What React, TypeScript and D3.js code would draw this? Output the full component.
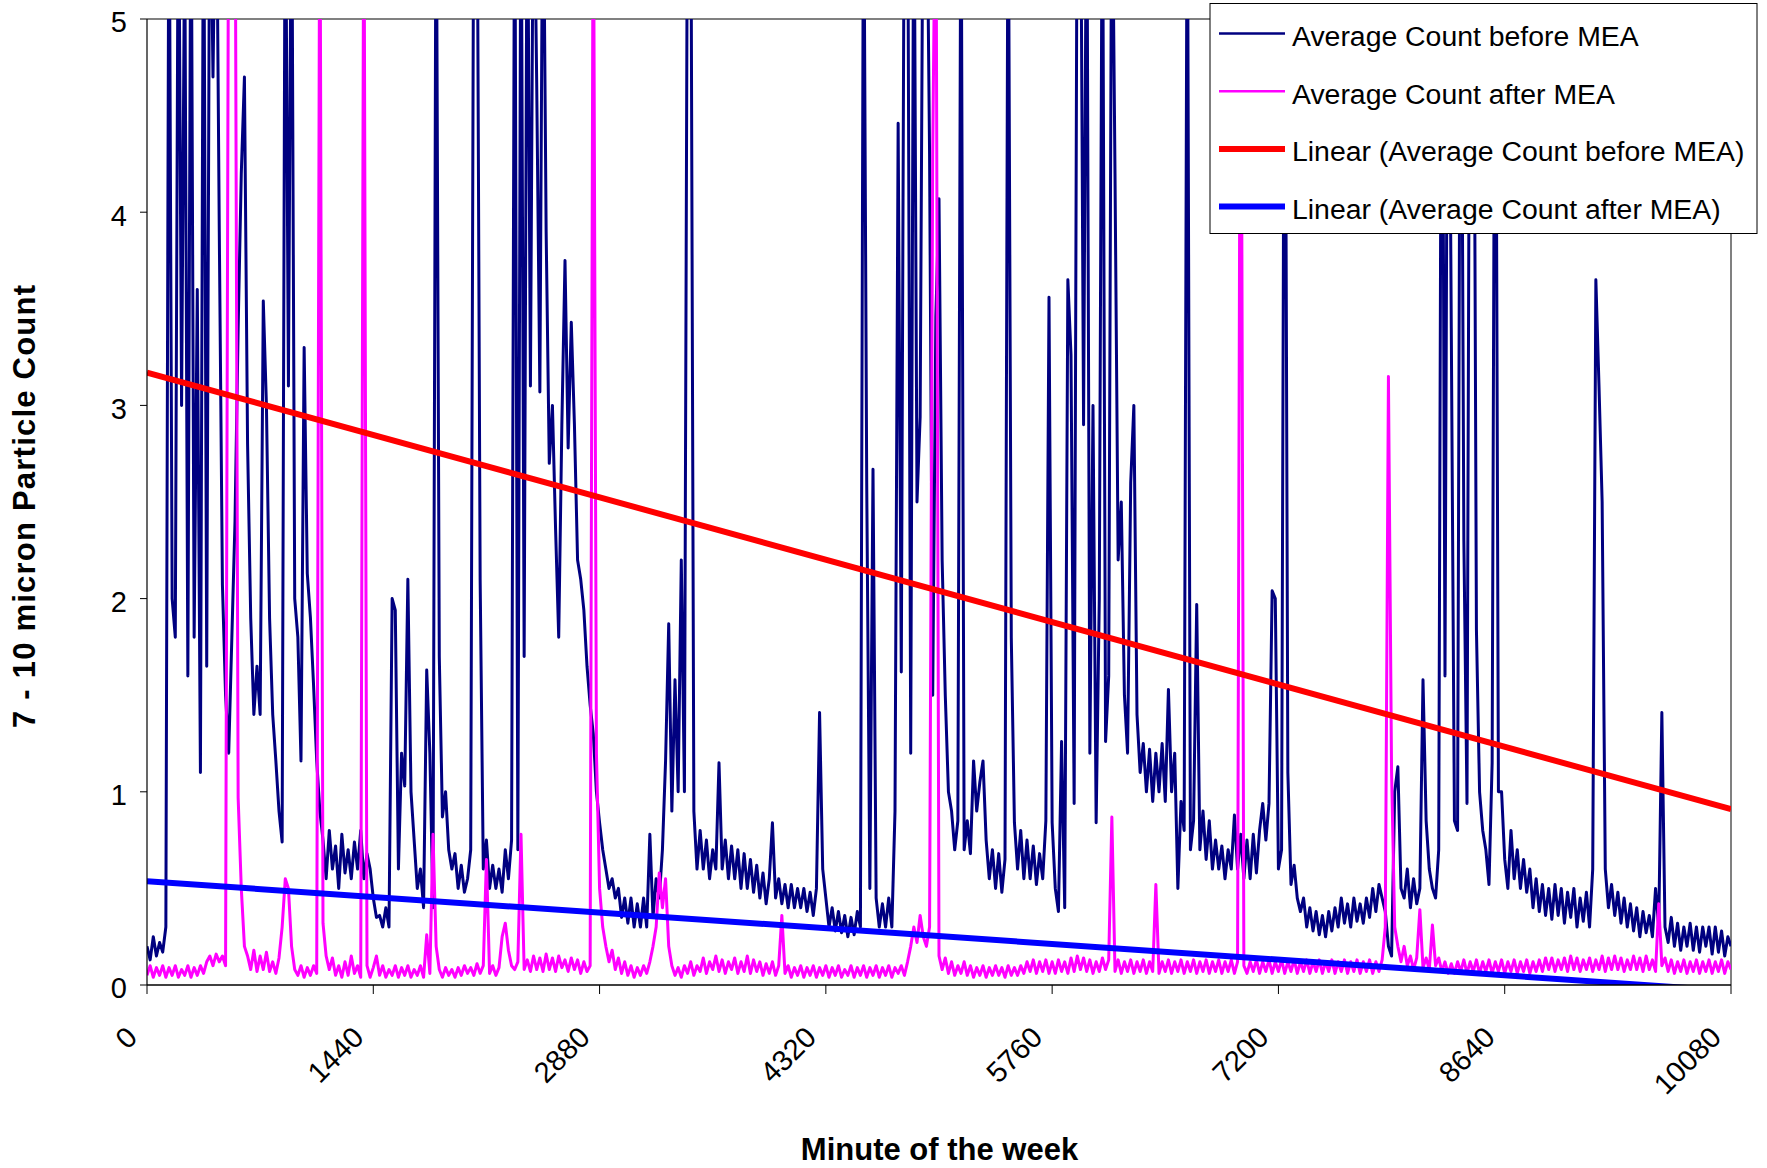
import React from "react";
import * as d3 from "d3";

// ---------- data ----------
const X_TICKS = [0, 1440, 2880, 4320, 5760, 7200, 8640, 10080];
const Y_TICKS = [0, 1, 2, 3, 4, 5];
const SAMPLE_STEP_MIN = 20; // one reading every 20 minutes of the week

// Average Count before MEA (one value per 20-minute step, day by day)
const BEFORE_MEA = [
  // day 1
  0.2, 0.13, 0.25, 0.15, 0.22, 0.17, 0.3,
  6, 2.0, 1.8, 6, 3.0, 5.5, 1.6,
  6, 1.8, 3.6, 1.1, 6, 1.65, 6,
  4.7, 6, 3.9, 2.07, 1.5, 1.2, 1.8,
  2.4, 3.4, 4.2, 4.7, 2.8, 1.9, 1.4,
  1.65, 1.4, 3.54, 3.0, 1.9, 1.4, 1.16,
  0.9, 0.74, 6, 3.1, 6, 2.0, 1.8,
  1.16, 3.3, 2.13, 1.9, 1.55, 1.16, 0.9,
  0.75, 0.55, 0.8, 0.6, 0.72, 0.5, 0.78, 0.58, 0.7, 0.55, 0.74, 0.6, 0.8, 0.55, 0.68, 0.6,
  // day 2
  0.45, 0.35, 0.36, 0.3, 0.4, 0.3, 2.0,
  1.94, 0.6, 1.2, 1.03, 2.1, 1.0, 0.75,
  0.5, 0.6, 0.4, 1.63, 1.2, 0.4, 6,
  1.7, 0.87, 1.0, 0.7, 0.6, 0.68, 0.5,
  0.62, 0.48, 0.55, 0.7, 6, 6, 2.1,
  0.6, 0.75, 0.5, 0.62, 0.5, 0.6, 0.48,
  0.7, 0.55, 0.75, 6, 0.7, 6, 1.7,
  6, 3.1, 6, 4.66, 3.07, 6, 3.9,
  2.7, 3.0, 2.36, 1.8, 2.9, 3.75, 2.78,
  3.43, 2.9, 2.2, 2.1, 1.94, 1.65, 1.45, 1.3, 1.0,
  // day 3
  0.84, 0.7, 0.6, 0.5, 0.55, 0.45, 0.5,
  0.35, 0.45, 0.32, 0.45, 0.3, 0.42, 0.3,
  0.45, 0.3, 0.78, 0.35, 0.55, 0.45, 0.7,
  1.16, 1.87, 0.9, 1.58, 1.0, 2.2, 1.0,
  6, 6, 0.9, 0.6, 0.8, 0.6, 0.75,
  0.55, 0.7, 0.6, 1.15, 0.6, 0.75, 0.55,
  0.72, 0.55, 0.7, 0.5, 0.68, 0.5, 0.65,
  0.48, 0.62, 0.45, 0.58, 0.42, 0.55, 0.84,
  0.45, 0.55, 0.42, 0.52, 0.4, 0.52, 0.4,
  0.5, 0.4, 0.5, 0.38, 0.48, 0.36, 0.5, 1.41, 0.6,
  // day 4
  0.45, 0.3, 0.4, 0.28, 0.38, 0.27, 0.36,
  0.25, 0.35, 0.26, 0.38, 0.3, 6, 2.6,
  0.5, 2.67, 0.45, 0.3, 0.42, 0.3, 0.45,
  0.3, 0.9, 4.46, 1.62, 6, 6, 1.2,
  6, 2.5, 2.94, 6, 6, 4.3, 1.5,
  3.46, 4.07, 2.2, 1.5, 1.0, 0.9, 0.7,
  0.85, 6, 0.7, 0.85, 0.68, 1.16, 0.9,
  1.05, 1.16, 0.75, 0.55, 0.7, 0.5, 0.68,
  0.48, 0.65, 6, 1.8, 0.84, 0.6, 0.8,
  0.55, 0.75, 0.55, 0.72, 0.52, 0.68, 0.55, 0.85, 3.56,
  // day 5
  0.84, 0.5, 0.38, 1.26, 0.4, 3.65, 3.26,
  0.94, 6, 6, 2.9, 6, 1.2, 3.0,
  0.84, 2.0, 6, 1.26, 1.6, 6, 4.2,
  2.2, 2.5, 1.5, 1.2, 2.6, 3.0, 1.4,
  1.1, 1.25, 1.0, 1.22, 0.95, 1.2, 1.0,
  1.25, 0.95, 1.53, 1.0, 1.2, 0.5, 0.95,
  0.8, 6, 0.7, 0.85, 1.97, 0.7, 0.9,
  0.65, 0.85, 0.6, 0.75, 0.6, 0.72, 0.55,
  0.7, 0.6, 0.88, 0.6, 0.78, 0.55, 0.75, 0.55, 0.78, 0.58, 0.8, 0.94, 0.75, 0.94, 2.04, 2.0,
  // day 6
  0.6, 0.7, 6, 1.1, 0.52, 0.62, 0.45,
  0.38, 0.45, 0.3, 0.4, 0.28, 0.38, 0.26,
  0.36, 0.25, 0.38, 0.28, 0.4, 0.3, 0.45,
  0.32, 0.42, 0.3, 0.45, 0.33, 0.42, 0.32,
  0.45, 0.35, 0.5, 0.38, 0.52, 0.45, 0.38,
  0.2, 0.15, 1.0, 1.13, 0.5, 0.45, 0.6,
  0.4, 0.55, 0.42, 0.5, 1.58, 0.85, 0.6,
  0.5, 0.45, 0.7, 6, 1.6, 6, 3.4,
  0.85, 0.8, 6, 2.3, 0.94, 6, 6,
  1.84, 1.0, 0.8, 0.7, 0.52, 1.15, 6, 1.0, 1.0,
  // day 7
  0.65, 0.5, 0.8, 0.55, 0.7, 0.5, 0.65,
  0.48, 0.6, 0.4, 0.55, 0.38, 0.52, 0.36,
  0.5, 0.34, 0.52, 0.36, 0.5, 0.32, 0.48,
  0.35, 0.5, 0.3, 0.45, 0.33, 0.48, 0.3,
  0.6, 3.65, 3.1, 2.5, 0.6, 0.4, 0.52,
  0.36, 0.48, 0.32, 0.45, 0.3, 0.42, 0.28,
  0.4, 0.25, 0.38, 0.27, 0.36, 0.25, 0.5,
  0.3, 1.41, 0.3, 0.22, 0.35, 0.2, 0.32,
  0.18, 0.3, 0.2, 0.32, 0.18, 0.3, 0.17,
  0.3, 0.2, 0.3, 0.16, 0.3, 0.17, 0.28, 0.15, 0.25, 0.2,
];

// Average Count after MEA (one value per 20-minute step)
const AFTER_MEA = [
  // day 1
  0.05, 0.1, 0.04, 0.09, 0.05, 0.1, 0.04,
  0.09, 0.05, 0.1, 0.04, 0.08, 0.05, 0.1,
  0.04, 0.09, 0.05, 0.1, 0.06, 0.12, 0.15,
  0.1, 0.16, 0.12, 0.15, 0.1, 6, 6,
  6, 0.97, 0.5, 0.2, 0.15, 0.08, 0.18,
  0.07, 0.15, 0.08, 0.17, 0.07, 0.12, 0.06,
  0.14, 0.3, 0.55, 0.5, 0.2, 0.08, 0.05,
  0.1, 0.04, 0.09, 0.05, 0.1, 0.06, 6,
  0.32, 0.15, 0.08, 0.14, 0.05, 0.1, 0.04,
  0.12, 0.05, 0.15, 0.06, 0.1, 0.04, 6,
  0.1, 0.04,
  // day 2
  0.09, 0.15, 0.05, 0.1, 0.04, 0.08, 0.05,
  0.1, 0.04, 0.09, 0.05, 0.1, 0.04, 0.08,
  0.05, 0.1, 0.04, 0.26, 0.06, 0.78, 0.2,
  0.08, 0.04, 0.09, 0.05, 0.08, 0.04, 0.09,
  0.05, 0.1, 0.06, 0.09, 0.05, 0.11, 0.06,
  0.1, 0.65, 0.06, 0.1, 0.05, 0.09, 0.25,
  0.32, 0.18, 0.1, 0.08, 0.12, 0.78, 0.08,
  0.13, 0.07, 0.15, 0.08, 0.14, 0.07, 0.16,
  0.08, 0.14, 0.07, 0.15, 0.09, 0.13, 0.07,
  0.14, 0.08, 0.13, 0.06, 0.12, 0.07, 0.1, 6, 1.2,
  // day 3
  0.5, 0.3, 0.2, 0.12, 0.18, 0.08, 0.14,
  0.06, 0.12, 0.05, 0.1, 0.04, 0.09, 0.05,
  0.1, 0.06, 0.12, 0.2, 0.3, 0.58, 0.4,
  0.55, 0.2, 0.1, 0.05, 0.09, 0.04, 0.1,
  0.06, 0.12, 0.05, 0.1, 0.07, 0.14, 0.06,
  0.12, 0.08, 0.15, 0.07, 0.13, 0.06, 0.12,
  0.08, 0.14, 0.06, 0.12, 0.07, 0.15, 0.06,
  0.13, 0.07, 0.12, 0.05, 0.11, 0.06, 0.12,
  0.05, 0.1, 0.36, 0.06, 0.1, 0.04, 0.09,
  0.05, 0.1, 0.04, 0.09, 0.05, 0.1, 0.04, 0.09, 0.05,
  // day 4
  0.1, 0.04, 0.09, 0.05, 0.1, 0.04, 0.08,
  0.05, 0.1, 0.04, 0.09, 0.05, 0.1, 0.04,
  0.09, 0.05, 0.1, 0.04, 0.09, 0.05, 0.1,
  0.04, 0.09, 0.06, 0.1, 0.05, 0.12, 0.2,
  0.3, 0.22, 0.36, 0.25, 0.2, 0.3, 4.3,
  6, 0.15, 0.08, 0.14, 0.06, 0.12, 0.05,
  0.1, 0.06, 0.12, 0.05, 0.1, 0.04, 0.09,
  0.05, 0.1, 0.04, 0.09, 0.05, 0.1, 0.05,
  0.09, 0.04, 0.1, 0.05, 0.09, 0.05, 0.1,
  0.06, 0.12, 0.07, 0.13, 0.06, 0.12, 0.07, 0.13, 0.06,
  // day 5
  0.12, 0.06, 0.13, 0.07, 0.12, 0.06, 0.14,
  0.07, 0.15, 0.08, 0.14, 0.07, 0.13, 0.06,
  0.12, 0.07, 0.14, 0.08, 0.13, 0.87, 0.07,
  0.13, 0.06, 0.12, 0.07, 0.13, 0.06, 0.12,
  0.07, 0.13, 0.06, 0.12, 0.07, 0.52, 0.06,
  0.12, 0.07, 0.13, 0.06, 0.12, 0.07, 0.13,
  0.06, 0.12, 0.07, 0.13, 0.06, 0.12, 0.07,
  0.13, 0.06, 0.12, 0.07, 0.13, 0.06, 0.12,
  0.07, 0.13, 0.06, 0.12, 6, 0.1, 0.06, 0.12, 0.07, 0.13, 0.06, 0.12, 0.07, 0.13, 0.06, 0.12,
  // day 6
  0.07, 0.13, 0.06, 0.12, 0.07, 0.13, 0.06,
  0.12, 0.07, 0.13, 0.06, 0.12, 0.07, 0.13,
  0.06, 0.12, 0.07, 0.13, 0.06, 0.12, 0.07,
  0.13, 0.06, 0.12, 0.07, 0.13, 0.06, 0.12,
  0.07, 0.13, 0.06, 0.12, 0.07, 0.13, 0.3,
  3.15, 1.1, 0.3, 0.2, 0.12, 0.2, 0.1,
  0.15, 0.08, 0.14, 0.39, 0.09, 0.14, 0.08,
  0.31, 0.1, 0.14, 0.07, 0.12, 0.06, 0.11,
  0.06, 0.12, 0.07, 0.13, 0.06, 0.12, 0.07,
  0.13, 0.06, 0.12, 0.07, 0.13, 0.06, 0.12, 0.07, 0.13,
  // day 7
  0.06, 0.12, 0.07, 0.13, 0.06, 0.12, 0.07,
  0.13, 0.06, 0.12, 0.07, 0.13, 0.07, 0.14,
  0.08, 0.14, 0.07, 0.13, 0.08, 0.14, 0.07,
  0.15, 0.08, 0.14, 0.07, 0.13, 0.08, 0.14,
  0.07, 0.13, 0.08, 0.15, 0.07, 0.14, 0.08,
  0.15, 0.08, 0.14, 0.07, 0.13, 0.08, 0.15,
  0.08, 0.14, 0.07, 0.15, 0.08, 0.13, 0.07,
  0.42, 0.1, 0.14, 0.07, 0.13, 0.06, 0.12,
  0.07, 0.13, 0.06, 0.12, 0.07, 0.13, 0.06,
  0.12, 0.07, 0.13, 0.06, 0.12, 0.07, 0.13, 0.06, 0.12, 0.08,
];

// Linear trendlines (value at start and end of the week)
const TREND_MINUTES = [0, 10080];
const TREND_BEFORE = [3.17, 0.91];
const TREND_AFTER = [0.537, -0.031];

const SERIES_NAMES = [
  "Average Count before MEA",
  "Average Count after MEA",
  "Linear (Average Count before MEA)",
  "Linear (Average Count after MEA)",
];
const SERIES_COLORS = ["#000080", "#FF00FF", "#FF0000", "#0000FF"];
const SERIES_WIDTHS = [3, 3, 6, 6];

const X_TITLE = "Minute of the week";
const Y_TITLE = "7 - 10 micron Particle Count";

// ---------- layout ----------
const W = 1767;
const H = 1168;
const PL = 147;
const PR = 1731;
const PT = 19;
const PB = 985;
const FONT = "'Liberation Sans', Arial, Helvetica, sans-serif";

export default function App() {
  const x = d3.scaleLinear().domain([0, 10080]).range([PL, PR]);
  const y = d3.scaleLinear().domain([0, 5]).range([PB, PT]);

  const sampled = d3
    .line<number>()
    .x((_, i) => x(i * SAMPLE_STEP_MIN))
    .y((d) => y(d));
  const trend = d3
    .line<number>()
    .x((_, i) => x(TREND_MINUTES[i]))
    .y((d) => y(d));

  const paths = [
    sampled(BEFORE_MEA),
    sampled(AFTER_MEA),
    trend(TREND_BEFORE),
    trend(TREND_AFTER),
  ];

  const legendX = 1210;
  const legendY = 3.5;
  const legendW = 547;
  const legendH = 230;
  const rowY0 = 33.5;
  const rowGap = 57.7;

  return (
    <svg
      width={W}
      height={H}
      viewBox={`0 0 ${W} ${H}`}
      style={{ position: "absolute", left: 0, top: 0, background: "#fff" }}
      fontFamily={FONT}
    >
      <defs>
        <clipPath id="plotClip">
          <rect x={PL} y={PT} width={PR - PL} height={PB - PT} />
        </clipPath>
      </defs>
      <rect x={0} y={0} width={W} height={H} fill="#fff" />

      {/* plot frame */}
      <line x1={PL} y1={PT} x2={PR} y2={PT} stroke="#808080" strokeWidth={2} />
      <line x1={PR} y1={PT} x2={PR} y2={PB} stroke="#808080" strokeWidth={2} />

      {/* series */}
      <g clipPath="url(#plotClip)">
        {paths.map((d, k) => (
          <path
            key={k}
            d={d || ""}
            fill="none"
            stroke={SERIES_COLORS[k]}
            strokeWidth={SERIES_WIDTHS[k]}
            strokeLinejoin="round"
            strokeLinecap="butt"
          />
        ))}
      </g>

      {/* y axis */}
      <line x1={PL} y1={PT} x2={PL} y2={PB} stroke="#000" strokeWidth={1.2} />
      {Y_TICKS.map((t) => (
        <g key={`y${t}`}>
          <line x1={PL - 7} x2={PL} y1={y(t)} y2={y(t)} stroke="#000" strokeWidth={1} />
          <text x={127} y={y(t) + 13.4} textAnchor="end" fontSize={29} fill="#000">
            {t}
          </text>
        </g>
      ))}

      {/* x axis */}
      <line x1={PL} y1={PB} x2={PR} y2={PB} stroke="#000" strokeWidth={1.5} />
      {X_TICKS.map((t) => (
        <g key={`x${t}`}>
          <line x1={x(t)} x2={x(t)} y1={PB} y2={PB + 9} stroke="#000" strokeWidth={1} />
          <text
            transform={`translate(${x(t) - 8},${PB + 54}) rotate(-45)`}
            textAnchor="end"
            fontSize={29}
            fill="#000"
          >
            {t}
          </text>
        </g>
      ))}

      {/* axis titles */}
      <text x={939.5} y={1159.5} textAnchor="middle" fontSize={31} fontWeight="bold" fill="#000">
        {X_TITLE}
      </text>
      <text
        transform="translate(35,506.5) rotate(-90)"
        textAnchor="middle"
        fontSize={31}
        fontWeight="bold"
        fill="#000"
        textLength={443}
        lengthAdjust="spacing"
      >
        {Y_TITLE}
      </text>

      {/* legend */}
      <rect x={legendX} y={legendY} width={legendW} height={legendH} fill="#fff" stroke="#000" strokeWidth={1} />
      {SERIES_NAMES.map((name, k) => {
        const ry = rowY0 + k * rowGap;
        return (
          <g key={name}>
            <line
              x1={1219}
              x2={1285}
              y1={ry}
              y2={ry}
              stroke={SERIES_COLORS[k]}
              strokeWidth={k < 2 ? 2.5 : 6}
            />
            <text x={1292} y={ry + 12.5} fontSize={28.4} fill="#000">
              {name}
            </text>
          </g>
        );
      })}
    </svg>
  );
}
